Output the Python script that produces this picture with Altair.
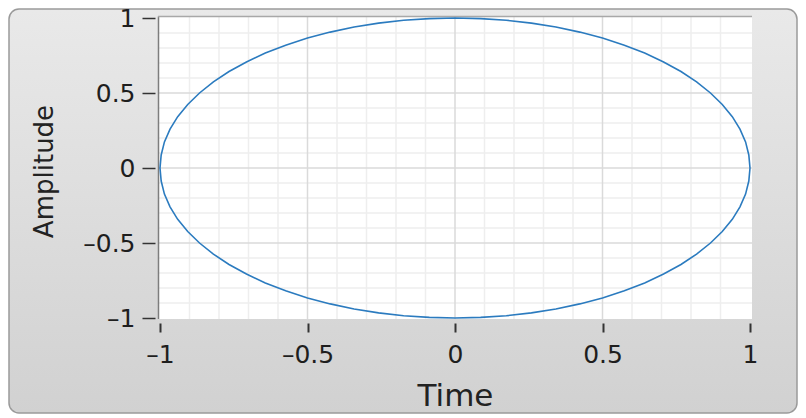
import altair as alt
import pandas as pd

# Curve points (counter-clockwise from (1, 0))
curve_x = [1.000, 0.996, 0.985, 0.966, 0.940, 0.906, 0.866, 0.819, 0.766, 0.707,
           0.643, 0.574, 0.500, 0.423, 0.342, 0.259, 0.174, 0.087, 0.000,
           -0.087, -0.174, -0.259, -0.342, -0.423, -0.500, -0.574, -0.643, -0.707,
           -0.766, -0.819, -0.866, -0.906, -0.940, -0.966, -0.985, -0.996, -1.000,
           -0.996, -0.985, -0.966, -0.940, -0.906, -0.866, -0.819, -0.766, -0.707,
           -0.643, -0.574, -0.500, -0.423, -0.342, -0.259, -0.174, -0.087, 0.000,
           0.087, 0.174, 0.259, 0.342, 0.423, 0.500, 0.574, 0.643, 0.707,
           0.766, 0.819, 0.866, 0.906, 0.940, 0.966, 0.985, 0.996, 1.000]
curve_y = [0.000, 0.087, 0.174, 0.259, 0.342, 0.423, 0.500, 0.574, 0.643, 0.707,
           0.766, 0.819, 0.866, 0.906, 0.940, 0.966, 0.985, 0.996, 1.000,
           0.996, 0.985, 0.966, 0.940, 0.906, 0.866, 0.819, 0.766, 0.707,
           0.643, 0.574, 0.500, 0.423, 0.342, 0.259, 0.174, 0.087, 0.000,
           -0.087, -0.174, -0.259, -0.342, -0.423, -0.500, -0.574, -0.643, -0.707,
           -0.766, -0.819, -0.866, -0.906, -0.940, -0.966, -0.985, -0.996, -1.000,
           -0.996, -0.985, -0.966, -0.940, -0.906, -0.866, -0.819, -0.766, -0.707,
           -0.643, -0.574, -0.500, -0.423, -0.342, -0.259, -0.174, -0.087, 0.000]

major_ticks = [-1, -0.5, 0, 0.5, 1]
minor_ticks = [-0.9, -0.8, -0.7, -0.6, -0.4, -0.3, -0.2, -0.1,
               0.1, 0.2, 0.3, 0.4, 0.6, 0.7, 0.8, 0.9]
major_grid = [-0.5, 0, 0.5]

curve = pd.DataFrame({"x": curve_x, "y": curve_y, "i": list(range(len(curve_x)))})
minor_df = pd.DataFrame({"v": minor_ticks})
major_df = pd.DataFrame({"v": major_grid})
one = pd.DataFrame({"a": [0]})

W, H = 590, 300
TOTAL_W, TOTAL_H = 790, 406
PAD_L, PAD_T = 152, 10
xs = alt.Scale(domain=[-1, 1], nice=False, zero=False)
ys = alt.Scale(domain=[-1, 1], nice=False, zero=False)

FONT = "DejaVu Sans"
label_expr = "replace(datum.label, '\u2212', '\u2013')"

ax_x = alt.Axis(
    values=major_ticks, format="~g", title="Time", offset=5, domain=False, grid=False,
    tickSize=9, tickWidth=2, tickColor="#333333", labelFlush=False,
    labelFont=FONT, labelFontSize=25, labelColor="#1e1e1e", labelPadding=10,
    labelExpr=label_expr,
    titleFont=FONT, titleFontSize=31, titleFontWeight="normal", titleColor="#222222",
    titleX=W / 2, titleY=82, titleBaseline="alphabetic", titleAlign="center", zindex=1)
ax_y = alt.Axis(
    values=major_ticks, format="~g", title="Amplitude", offset=5, domain=False, grid=False,
    tickSize=13, tickWidth=1.5, tickColor="#333333", labelFlush=False,
    labelFont=FONT, labelFontSize=25, labelColor="#1e1e1e", labelPadding=7,
    labelExpr=label_expr,
    titleFont=FONT, titleFontSize=26, titleFontWeight="normal", titleColor="#222222",
    titleX=-103, titleY=153, titleAngle=-90, titleBaseline="alphabetic",
    titleAlign="center", zindex=1)

bg = alt.Chart(one).mark_rect(
    color={"x1": 0, "y1": 0, "x2": 0, "y2": 1, "gradient": "linear",
           "stops": [{"offset": 0, "color": "#e9e9e9"}, {"offset": 1, "color": "#d1d1d1"}]},
    cornerRadius=10, stroke="#9a9a9a", strokeWidth=1.5
).encode(x=alt.value(-PAD_L + 1), x2=alt.value(TOTAL_W - PAD_L - 1),
         y=alt.value(-PAD_T + 1), y2=alt.value(TOTAL_H - PAD_T - 1))

plot_bg = alt.Chart(one).mark_rect(color="white").encode(
    x=alt.value(-2), x2=alt.value(W + 2), y=alt.value(-1), y2=alt.value(H + 1))

minor_v = alt.Chart(minor_df).mark_rule(color="#eeeeee", strokeWidth=1.5).encode(
    x=alt.X("v:Q", scale=xs, axis=ax_x), y=alt.value(-1), y2=alt.value(H + 1))
minor_h = alt.Chart(minor_df).mark_rule(color="#eeeeee", strokeWidth=1.5).encode(
    y=alt.Y("v:Q", scale=ys, axis=ax_y), x=alt.value(-2), x2=alt.value(W + 2))
major_v = alt.Chart(major_df).mark_rule(color="#dadada", strokeWidth=1.5).encode(
    x=alt.X("v:Q", scale=xs, axis=ax_x), y=alt.value(-1), y2=alt.value(H + 1))
major_h = alt.Chart(major_df).mark_rule(color="#dadada", strokeWidth=1.5).encode(
    y=alt.Y("v:Q", scale=ys, axis=ax_y), x=alt.value(-2), x2=alt.value(W + 2))

left_edge = alt.Chart(one).mark_rule(color="#7d7d7d", strokeWidth=1.5).encode(
    x=alt.value(-1.5), y=alt.value(-1.5), y2=alt.value(H + 1))
top_edge = alt.Chart(one).mark_rule(color="#a8a8a8", strokeWidth=1.5).encode(
    y=alt.value(-1.5), x=alt.value(-2), x2=alt.value(W + 2))

line = alt.Chart(curve).mark_line(color="#2b7bbf", strokeWidth=1.6).encode(
    x=alt.X("x:Q", scale=xs, axis=ax_x),
    y=alt.Y("y:Q", scale=ys, axis=ax_y),
    order="i:Q",
)

chart = alt.layer(bg, plot_bg, minor_v, minor_h, major_v, major_h, left_edge, top_edge, line).properties(
    width=W, height=H,
    autosize=alt.AutoSizeParams(type="none"),
    padding={"left": PAD_L, "top": PAD_T, "right": TOTAL_W - PAD_L - W,
             "bottom": TOTAL_H - PAD_T - H},
).configure_view(stroke=None).configure(background="white")

chart.save("out.html", embed_options={"renderer": "svg", "actions": False})
